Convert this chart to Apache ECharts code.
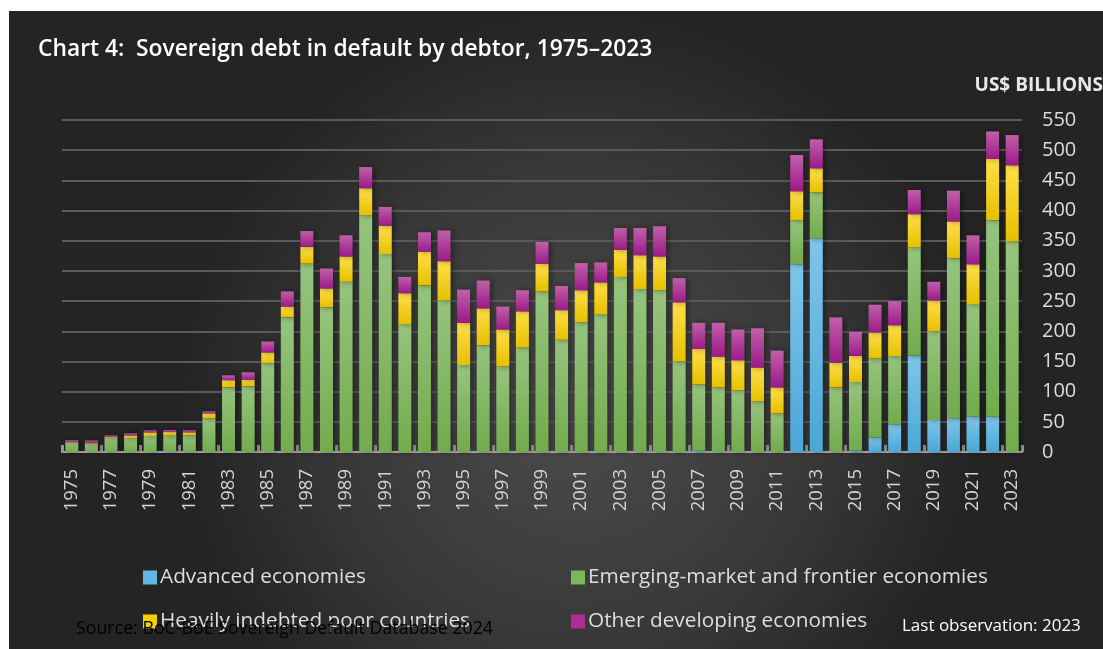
<!DOCTYPE html>
<html>
<head>
<meta charset="utf-8">
<script src="https://cdn.jsdelivr.net/npm/echarts@6/dist/echarts.min.js"></script>
<style>
html,body{margin:0;padding:0;background:#fff;}
#chart{width:1103px;height:649px;}
</style>
</head>
<body>
<div id="chart"></div>
<script>
const years = ["1975","1976","1977","1978","1979","1980","1981","1982","1983","1984","1985","1986","1987","1988","1989","1990","1991","1992","1993","1994","1995","1996","1997","1998","1999","2000","2001","2002","2003","2004","2005","2006","2007","2008","2009","2010","2011","2012","2013","2014","2015","2016","2017","2018","2019","2020","2021","2022","2023"];
const advanced = [0,0,0,0,0,1,0,0,0,0,0,0,0,0,0,0,0,0,0,0,0,0,0,0,0,0,0,0,0,0,0,0,2,0,0,0,0,311,354,0,2,24,46,160,53,56,59,59,0];
const emerging = [16,14,23,23,26.5,26,27.6,56,107,109,147,223,312,240,282,392,328,212,276,251,144,177,142,173,266,186,215,228,290,270,268,150,110,107,102,84,64,73,76,107,114,131,113,179,147,265,186,325,349];
const hipc = [0.5,1.5,1.6,4.4,6,6,5,8,12,11,18,18,28,31,42,45,47,51,56,65,70,61,61,60,46,49,53,53,45,56,56,98,59,51,50,56,43,48,40,41,43,43,51,55,51,61,66,102,126];
const other = [3,3.5,2.8,3.3,3.3,3.3,3.3,3.3,8,12,18,25,26,33,35,35,31,27,32,51,55,46,38,35,36,40,45,33,36,45,50,40,43,56,51,65,61,60,48,75,40,46,40,40,31,51,48,45,50];
const seriesNames = ["Advanced economies","Emerging-market and frontier economies","Heavily indebted poor countries","Other developing economies"];
const yTicks = {min:0,max:550,interval:50};

function grad(top, bottom){
  return new echarts.graphic.LinearGradient(0,0,0,1,[{offset:0,color:top},{offset:1,color:bottom}]);
}
const colors = [
  grad('#7ec6ea','#4ba6d6'),
  grad('#96c47e','#72ab4c'),
  grad('#ffdf4a','#e6c000'),
  grad('#c060a8','#9c1a88')
];
const legendColors = ['#5fb6e2','#7cb85a','#f5d000','#b02a98'];
const datasets = [advanced, emerging, hipc, other];

const chart = echarts.init(document.getElementById('chart'), null, {renderer:'canvas'});
const FONT = '"Open Sans", "Noto Sans", sans-serif';

const series = datasets.map((d,i)=>({
  name: seriesNames[i],
  type:'bar',
  stack:'total',
  data:d,
  barWidth:13,
  itemStyle:{color:colors[i], shadowColor:'rgba(0,0,0,0.45)', shadowBlur:6, shadowOffsetX:2, shadowOffsetY:0},
  emphasis:{disabled:true}
}));

const legendPos = [[138,562],[566,562],[138,606],[566,606]];
const legends = seriesNames.map((n,i)=>({
  data:[{name:n, itemStyle:{color:legendColors[i]}}],
  left:legendPos[i][0], top:legendPos[i][1],
  itemWidth:14, itemHeight:14, itemGap:5,
  icon:'rect',
  textStyle:{color:'#dedede', fontSize:20.8, fontFamily:FONT, padding:[0,0,0,-2]},
  selectedMode:false
}));

chart.setOption({
  animation:false,
  backgroundColor:'#ffffff',
  graphic:[
    {type:'rect', left:9, top:11, z:-10, shape:{width:1094, height:638},
     style:{fill:new echarts.graphic.RadialGradient(0.52,0.62,0.62,[{offset:0,color:'#4c4c4c'},{offset:0.6,color:'#383838'},{offset:1,color:'#242424'}])}},
    {type:'text', left:38, top:38, style:{text:'Chart 4:  Sovereign debt in default by debtor, 1975\u20132023', fill:'#ffffff', font:'600 22.8px '+FONT}},
    {type:'text', right:0, top:76, style:{text:'US$ BILLIONS', fill:'#e8e8e8', font:'bold 19px '+FONT}},
    {type:'text', left:76, top:620, z:10, style:{text:'Source: BoC-BoE Sovereign Default Database 2024', fill:'#000000', font:'17.8px '+FONT}},
    {type:'text', left:902, top:618, style:{text:'Last observation: 2023', fill:'#ffffff', font:'17px '+FONT}}
  ],
  legend:legends,
  grid:{left:62, right:81, top:120, bottom:197, containLabel:false},
  xAxis:{
    type:'category', data:years, boundaryGap:true,
    axisLine:{show:true, lineStyle:{color:'#aaaaaa', width:2}},
    axisTick:{show:true, inside:true, length:7, lineStyle:{color:'#9a9a9a', width:3}},
    axisLabel:{interval:1, rotate:90, margin:17, color:'#d4d4d4', fontSize:18.5, fontFamily:FONT}
  },
  yAxis:{
    type:'value', position:'right', min:yTicks.min, max:yTicks.max, interval:yTicks.interval,
    axisLine:{show:false}, axisTick:{show:false},
    axisLabel:{color:'#dcdcdc', fontSize:20, fontFamily:FONT, margin:20},
    splitLine:{show:true, lineStyle:{color:'#5a5a5a', width:2}}
  },
  series:series
});
</script>
</body>
</html>
